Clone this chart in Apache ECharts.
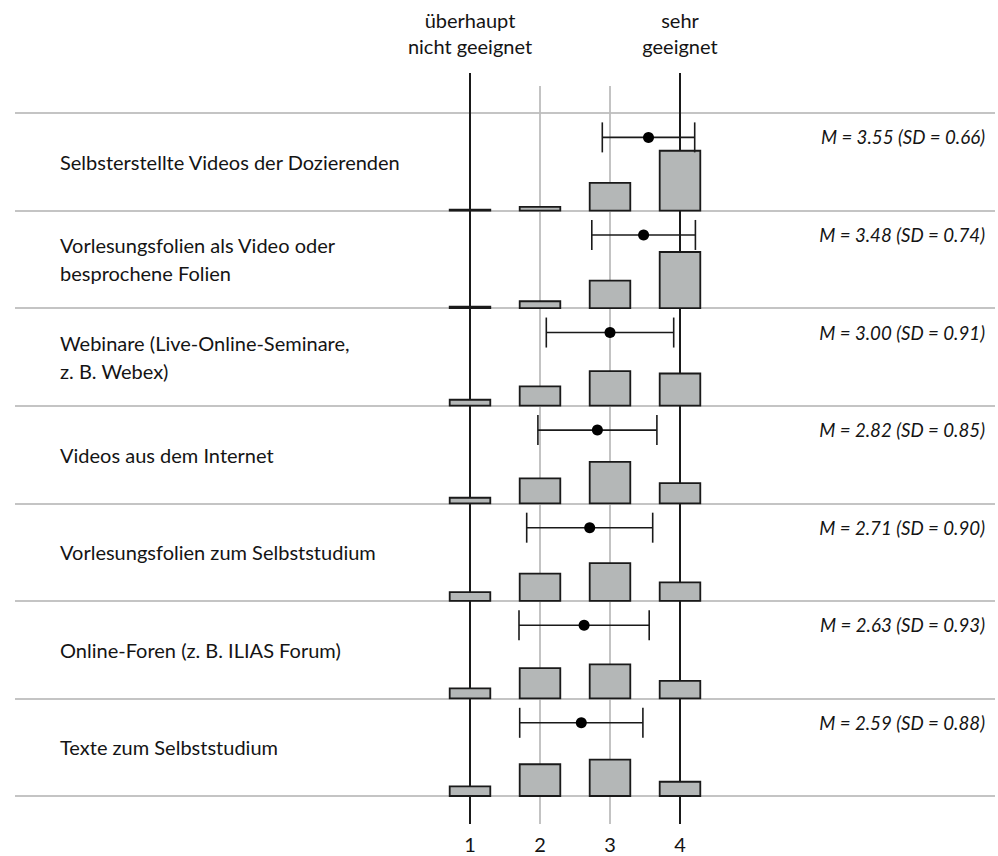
<!DOCTYPE html>
<html>
<head>
<meta charset="utf-8">
<title>Eignung digitaler Lehrformate</title>
<script src="https://cdn.jsdelivr.net/npm/echarts@6.0.0/dist/echarts.min.js"></script>
<style>
  html, body { margin: 0; padding: 0; background: #ffffff; }
  #chart { width: 998px; height: 856px; }
</style>
</head>
<body>
<div id="chart"></div>
<script>
// Items rated on a 4-point scale (1 = überhaupt nicht geeignet, 4 = sehr geeignet)
const items = [
  'Selbsterstellte Videos der Dozierenden',
  'Vorlesungsfolien als Video oder\nbesprochene Folien',
  'Webinare (Live-Online-Seminare,\nz. B. Webex)',
  'Videos aus dem Internet',
  'Vorlesungsfolien zum Selbststudium',
  'Online-Foren (z. B. ILIAS Forum)',
  'Texte zum Selbststudium'
];
const means = [3.55, 3.48, 3.00, 2.82, 2.71, 2.63, 2.59];
const sds = [0.66, 0.74, 0.91, 0.85, 0.90, 0.93, 0.88];

// Share of answers (%) per scale point, one array per point
const share1 = [1, 1.5, 6.5, 6, 9.5, 11, 10.5];
const share2 = [4, 7.5, 21, 27, 29.5, 33, 34.5];
const share3 = [30, 30, 37.5, 45, 41, 37, 39.5];
const share4 = [65, 61, 35, 22, 20, 19, 15.5];

const scalePoints = [1, 2, 3, 4];
const scaleTickLabels = ['1', '2', '3', '4'];
const scaleEndLabels = ['überhaupt\nnicht geeignet', 'sehr\ngeeignet'];

const FONT = "Lato, 'Noto Sans', sans-serif";
const TEXT = '#141414';
const BAR_FILL = '#b4b7b7';
const BAR_WIDTH = 0.58;      // in scale units
const FULL_SHARE = 0.943;    // row fraction covered by a 100 % bar
const ERR_OFFSET = 0.25;     // error bar position inside a row
const nRows = items.length;

const shares = [share1, share2, share3, share4];
const barData = [];
shares.forEach((arr, k) => {
  arr.forEach((v, row) => barData.push([scalePoints[k], row, v]));
});

const chart = echarts.init(document.getElementById('chart'), null, { renderer: 'svg' });

chart.setOption({
  animation: false,
  grid: { left: 15, right: 3, top: 113, bottom: 60, containLabel: false, outerBoundsMode: 'none' },
  xAxis: {
    type: 'value',
    min: -5.5,
    max: 8.5,
    interval: 0.5,
    axisLine: { show: false },
    axisTick: { show: false },
    splitLine: { show: false },
    axisLabel: {
      margin: 38,
      fontFamily: FONT,
      fontSize: 20,
      lineHeight: 20,
      color: TEXT,
      formatter: function (v) {
        const i = scalePoints.indexOf(v);
        return i >= 0 ? scaleTickLabels[i] : '';
      }
    }
  },
  yAxis: {
    type: 'value',
    min: 0,
    max: nRows,
    interval: 1,
    inverse: true,
    axisLine: { show: false },
    axisTick: { show: false },
    axisLabel: { show: false },
    splitLine: { show: true, lineStyle: { color: '#c4c4c4', width: 2 } }
  },
  series: [
    {
      // vertical reference lines for the scale points
      type: 'custom',
      data: scalePoints.map(p => [p]),
      renderItem: function (params, api) {
        const p = api.value(0);
        const isEnd = p === scalePoints[0] || p === scalePoints[scalePoints.length - 1];
        const top = api.coord([p, 0]);
        const bottom = api.coord([p, nRows]);
        return {
          type: 'line',
          shape: { x1: top[0], y1: top[1] - (isEnd ? 40 : 27), x2: top[0], y2: bottom[1] + 28 },
          style: { stroke: isEnd ? '#1a1a1a' : '#bdbdbd', lineWidth: isEnd ? 2 : 1.8 }
        };
      }
    },
    {
      // answer distribution bars
      type: 'custom',
      data: barData,
      renderItem: function (params, api) {
        const x = api.value(0), row = api.value(1), pct = api.value(2);
        const base = api.coord([x - BAR_WIDTH / 2, row + 1]);
        const top = api.coord([x + BAR_WIDTH / 2, row + 1 - pct / 100 * FULL_SHARE]);
        return {
          type: 'rect',
          shape: { x: base[0], y: top[1], width: top[0] - base[0], height: base[1] - top[1] },
          style: { fill: BAR_FILL, stroke: '#1a1a1a', lineWidth: 1.8 }
        };
      }
    },
    {
      // mean with ± 1 SD
      type: 'custom',
      data: means.map((m, i) => [m, sds[i], i]),
      renderItem: function (params, api) {
        const m = api.value(0), s = api.value(1), row = api.value(2);
        const y = row + ERR_OFFSET;
        const lo = api.coord([m - s, y]);
        const hi = api.coord([m + s, y]);
        const c = api.coord([m, y]);
        const st = { stroke: '#1a1a1a', lineWidth: 1.6 };
        return {
          type: 'group',
          children: [
            { type: 'line', shape: { x1: lo[0], y1: lo[1], x2: hi[0], y2: hi[1] }, style: st },
            { type: 'line', shape: { x1: lo[0], y1: lo[1] - 15, x2: lo[0], y2: lo[1] + 15 }, style: st },
            { type: 'line', shape: { x1: hi[0], y1: hi[1] - 15, x2: hi[0], y2: hi[1] + 15 }, style: st },
            { type: 'circle', shape: { cx: c[0], cy: c[1], r: 5.5 }, style: { fill: '#000000' } }
          ]
        };
      }
    },
    {
      // item names and M / SD summaries
      type: 'custom',
      data: items.map((t, i) => [i]),
      renderItem: function (params, api) {
        const row = api.value(0);
        const mid = api.coord([0, row + 0.5]);
        const errY = api.coord([0, row + ERR_OFFSET]);
        return {
          type: 'group',
          children: [
            {
              type: 'text',
              x: 60, y: mid[1],
              style: {
                text: items[row], fill: TEXT,
                fontFamily: FONT, fontSize: 20,
                align: 'left', verticalAlign: 'middle', lineHeight: 28
              }
            },
            {
              type: 'text',
              x: 985, y: errY[1],
              style: {
                text: 'M = ' + means[row].toFixed(2) + ' (SD = ' + sds[row].toFixed(2) + ')',
                fill: TEXT, fontFamily: FONT, fontSize: 18.7, fontStyle: 'italic',
                align: 'right', verticalAlign: 'middle'
              }
            }
          ]
        };
      }
    },
    {
      // labels for the scale end points
      type: 'custom',
      data: [[scalePoints[0], 0], [scalePoints[scalePoints.length - 1], 1]],
      renderItem: function (params, api) {
        const p = api.coord([api.value(0), 0]);
        return {
          type: 'text',
          x: p[0], y: p[1] - 80,
          style: {
            text: scaleEndLabels[api.value(1)], fill: TEXT,
            fontFamily: FONT, fontSize: 20,
            align: 'center', verticalAlign: 'middle', lineHeight: 26
          }
        };
      }
    }
  ]
});
</script>
</body>
</html>
